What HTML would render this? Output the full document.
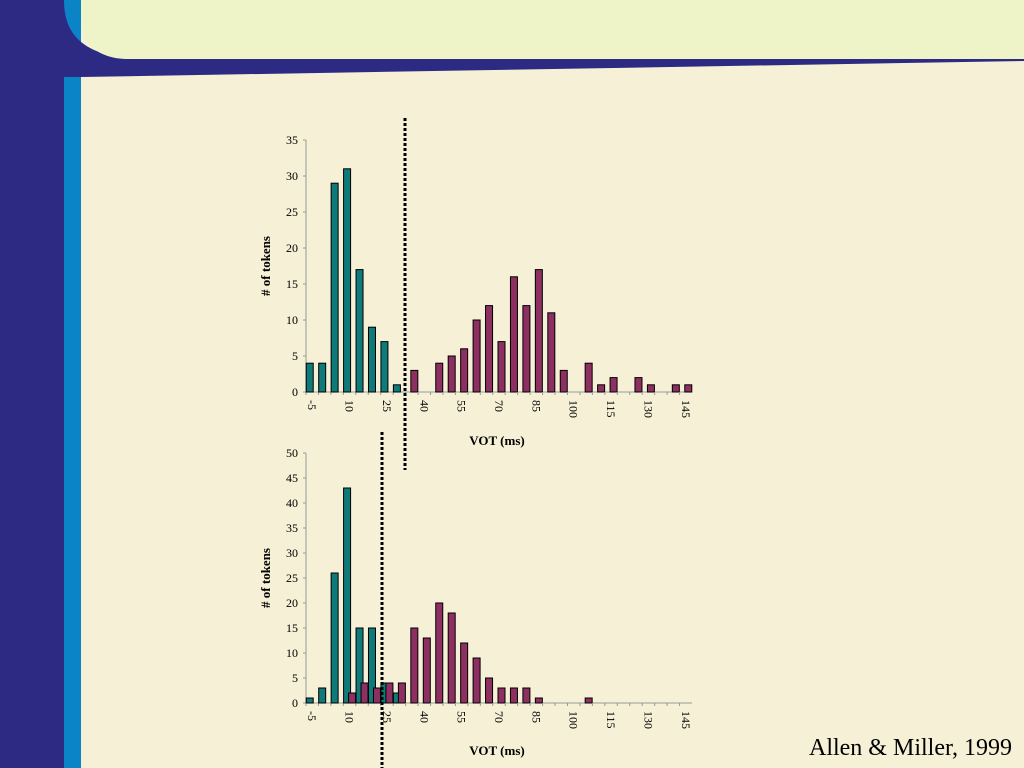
<!DOCTYPE html>
<html><head><meta charset="utf-8"><style>
html,body{margin:0;padding:0;background:#f5f0d6;}
svg{display:block;font-family:"Liberation Serif",serif;}
</style></head><body>
<svg id="root" width="1024" height="768" viewBox="0 0 1024 768" xmlns="http://www.w3.org/2000/svg">
<rect x="0" y="0" width="1024" height="768" fill="#f5f0d6"/>
<rect x="64" y="0" width="17" height="768" fill="#0a84c6"/>
<path d="M64,0 C64,30 78,52 125,58 L1024,58 L1024,61 L81,77 L64,77 Z" fill="#2c2a82"/>
<path d="M81,0 L1024,0 L1024,59 L125,59 C100,58 81,45 81,20 Z" fill="#eef3c8"/>
<rect x="0" y="0" width="64" height="768" fill="#2c2a82"/>
<g id="top"></g>
<g id="bot"></g>
<line x1="405" y1="118" x2="405" y2="470" stroke="#000" stroke-width="3" stroke-dasharray="3,2"/>
<line x1="382" y1="432" x2="382" y2="768" stroke="#000" stroke-width="3" stroke-dasharray="3,2"/>
<text x="1012" y="755" font-size="24" text-anchor="end" fill="#000">Allen &amp; Miller, 1999</text>
</svg>
<script>
const categories=[-5,0,5,10,15,20,25,30,35,40,45,50,55,60,65,70,75,80,85,90,95,100,105,110,115,120,125,130,135,140,145];
const topVoiced=[4,4,29,31,17,9,7,1,0,0,0,0,0,0,0,0,0,0,0,0,0,0,0,0,0,0,0,0,0,0,0];
const topVoiceless=[0,0,0,0,0,0,0,0,3,0,4,5,6,10,12,7,16,12,17,11,3,0,4,1,2,0,2,1,0,1,1];
const topTicks=[0,5,10,15,20,25,30,35];
const botVoiced=[1,3,26,43,15,15,4,2,0,0,0,0,0,0,0,0,0,0,0,0,0,0,0,0,0,0,0,0,0,0,0];
const botVoiceless=[0,0,0,2,4,3,4,4,15,13,20,18,12,9,5,3,3,3,1,0,0,0,1,0,0,0,0,0,0,0,0];
const botTicks=[0,5,10,15,20,25,30,35,40,45,50];
const NS="http://www.w3.org/2000/svg";
function mk(p,t,a){const e=document.createElementNS(NS,t);for(const k in a)e.setAttribute(k,a[k]);p.appendChild(e);return e;}
function chart(g,voiced,voiceless,ticks,y0,y1,ymax,labelY){
  const x0=306,x1=692,n=categories.length,step=(x1-x0)/n;
  const xc=i=>x0+step*(i+0.5);
  const ys=v=>y0-(v/ymax)*(y0-y1);
  const ax=mk(g,'line',{x1:x0,y1:y1,x2:x0,y2:y0,stroke:'#999','stroke-width':1});
  
  
  const xa=mk(g,'line',{x1:x0,y1:y0,x2:x1,y2:y0,stroke:'#999','stroke-width':1});
  
  
  ticks.forEach(t=>{
    const tl=mk(g,'line',{x1:x0-3,y1:ys(t),x2:x0,y2:ys(t),stroke:'#999'});
    
    
    const tx=mk(g,'text',{x:x0-8,y:ys(t)+4,'font-size':12,'text-anchor':'end'});
    tx.textContent=t;
    
    
  });
  categories.forEach((c,i)=>{
    const tk=mk(g,'line',{x1:x0+step*i,y1:y0,x2:x0+step*i,y2:y0+3,stroke:'#999'});
    
    
    if(i%3===0){
      const tx=mk(g,'text',{x:0,y:0,'font-size':12,transform:`translate(${xc(i)-4},${y0+8}) rotate(90)`});
      tx.textContent=c;
      
      
    }
    if(voiced[i]>0){
      const b=mk(g,'rect',{x:xc(i)-6,y:ys(voiced[i]),width:7,height:y0-ys(voiced[i]),fill:'#0f7a7a',stroke:'#000','stroke-width':1});
      
      
    }
    if(voiceless[i]>0){
      const b=mk(g,'rect',{x:xc(i)-1,y:ys(voiceless[i]),width:7,height:y0-ys(voiceless[i]),fill:'#8e2f62',stroke:'#000','stroke-width':1});
      
      
    }
  });
  const yt=mk(g,'text',{x:0,y:0,'font-size':13,'font-weight':'bold','text-anchor':'middle',transform:`translate(270,${(y0+y1)/2}) rotate(-90)`});
  yt.textContent='# of tokens';
  
  
  const xt=mk(g,'text',{x:497,y:labelY,'font-size':13,'font-weight':'bold','text-anchor':'middle'});
  xt.textContent='VOT (ms)';
  
  
}
chart(document.getElementById('top'),topVoiced,topVoiceless,topTicks,392,140,35,445);
chart(document.getElementById('bot'),botVoiced,botVoiceless,botTicks,703,453,50,755);
</script>
</body></html>
